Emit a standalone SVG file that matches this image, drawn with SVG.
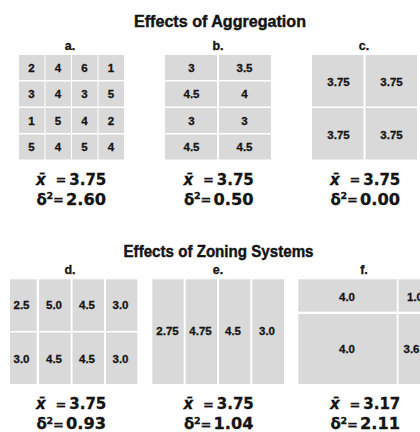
<svg xmlns="http://www.w3.org/2000/svg" width="420" height="432" viewBox="0 0 420 432">
<style>
.bg{fill:#ffffff}
.c{fill:#d9d9d9}
.t{font-family:"Liberation Sans",Arial,sans-serif;font-weight:bold;fill:#141414;stroke:#141414;stroke-width:0.3}
.title{font-size:17px;stroke-width:0.45}
.lbl{font-size:12.5px;text-anchor:middle}
.n{font-size:11.5px;text-anchor:middle}
.s{font-family:"DejaVu Sans","Liberation Sans",sans-serif;font-weight:bold;font-size:15px;fill:#141414;stroke:#141414;stroke-width:0.3}
.sup{font-size:9.5px}
.eq{font-size:13px}
</style>
<rect class="bg" x="0" y="0" width="420" height="432"/>
<text class="t title" x="134" y="27" textLength="172" lengthAdjust="spacingAndGlyphs">Effects of Aggregation</text>
<text class="t title" x="123.5" y="257" textLength="190" lengthAdjust="spacingAndGlyphs">Effects of Zoning Systems</text>

<g id="panel-a">
<text class="t lbl" x="70" y="50">a.</text>
<rect class="c" x="19" y="55" width="25.5" height="25"/><rect class="c" x="45.5" y="55" width="25.5" height="25"/><rect class="c" x="72" y="55" width="25.5" height="25"/><rect class="c" x="98.5" y="55" width="25.5" height="25"/>
<rect class="c" x="19" y="81.5" width="25.5" height="25"/><rect class="c" x="45.5" y="81.5" width="25.5" height="25"/><rect class="c" x="72" y="81.5" width="25.5" height="25"/><rect class="c" x="98.5" y="81.5" width="25.5" height="25"/>
<rect class="c" x="19" y="108" width="25.5" height="25"/><rect class="c" x="45.5" y="108" width="25.5" height="25"/><rect class="c" x="72" y="108" width="25.5" height="25"/><rect class="c" x="98.5" y="108" width="25.5" height="25"/>
<rect class="c" x="19" y="134.5" width="25.5" height="25"/><rect class="c" x="45.5" y="134.5" width="25.5" height="25"/><rect class="c" x="72" y="134.5" width="25.5" height="25"/><rect class="c" x="98.5" y="134.5" width="25.5" height="25"/>
<text class="t n" x="31.5" y="71.5">2</text><text class="t n" x="58" y="71.5">4</text><text class="t n" x="84.5" y="71.5">6</text><text class="t n" x="111" y="71.5">1</text>
<text class="t n" x="31.5" y="98">3</text><text class="t n" x="58" y="98">4</text><text class="t n" x="84.5" y="98">3</text><text class="t n" x="111" y="98">5</text>
<text class="t n" x="31.5" y="124.5">1</text><text class="t n" x="58" y="124.5">5</text><text class="t n" x="84.5" y="124.5">4</text><text class="t n" x="111" y="124.5">2</text>
<text class="t n" x="31.5" y="151">5</text><text class="t n" x="58" y="151">4</text><text class="t n" x="84.5" y="151">5</text><text class="t n" x="111" y="151">4</text>
<text class="s" x="36" y="184.7" font-style="italic">x̄</text><text class="s eq" x="55.5" y="184">=</text><text class="s" x="69.3" y="184.7" textLength="37" lengthAdjust="spacingAndGlyphs">3.75</text>
<text class="s" x="36.5" y="204.7">δ</text><text class="s sup" x="46.5" y="199">2</text><text class="s eq" x="53" y="204">=</text><text class="s" x="66" y="204.7" textLength="40" lengthAdjust="spacingAndGlyphs">2.60</text>
</g>

<g id="panel-b">
<text class="t lbl" x="218" y="50">b.</text>
<rect class="c" x="165" y="55" width="52" height="25"/><rect class="c" x="219" y="55" width="52" height="25"/>
<rect class="c" x="165" y="81.5" width="52" height="25"/><rect class="c" x="219" y="81.5" width="52" height="25"/>
<rect class="c" x="165" y="108" width="52" height="25"/><rect class="c" x="219" y="108" width="52" height="25"/>
<rect class="c" x="165" y="134.5" width="52" height="25"/><rect class="c" x="219" y="134.5" width="52" height="25"/>
<text class="t n" x="191.5" y="71.5">3</text><text class="t n" x="244.5" y="71.5">3.5</text>
<text class="t n" x="191.5" y="98">4.5</text><text class="t n" x="244.5" y="98">4</text>
<text class="t n" x="191.5" y="124.5">3</text><text class="t n" x="244.5" y="124.5">3</text>
<text class="t n" x="191.5" y="151">4.5</text><text class="t n" x="244.5" y="151">4.5</text>
<text class="s" x="183.5" y="184.7" font-style="italic">x̄</text><text class="s eq" x="203" y="184">=</text><text class="s" x="216.8" y="184.7" textLength="37" lengthAdjust="spacingAndGlyphs">3.75</text>
<text class="s" x="184" y="204.7">δ</text><text class="s sup" x="194" y="199">2</text><text class="s eq" x="200.5" y="204">=</text><text class="s" x="213.5" y="204.7" textLength="40" lengthAdjust="spacingAndGlyphs">0.50</text>
</g>

<g id="panel-c">
<text class="t lbl" x="364" y="50">c.</text>
<rect class="c" x="312" y="55" width="51.5" height="51.5"/><rect class="c" x="365.5" y="55" width="51.5" height="51.5"/>
<rect class="c" x="312" y="108" width="51.5" height="51.5"/><rect class="c" x="365.5" y="108" width="51.5" height="51.5"/>
<text class="t n" x="338.5" y="85.5">3.75</text><text class="t n" x="391.5" y="85.5">3.75</text>
<text class="t n" x="338.5" y="138.5">3.75</text><text class="t n" x="391.5" y="138.5">3.75</text>
<text class="s" x="330" y="184.7" font-style="italic">x̄</text><text class="s eq" x="349.5" y="184">=</text><text class="s" x="363.3" y="184.7" textLength="37" lengthAdjust="spacingAndGlyphs">3.75</text>
<text class="s" x="330.5" y="204.7">δ</text><text class="s sup" x="340.5" y="199">2</text><text class="s eq" x="347" y="204">=</text><text class="s" x="360" y="204.7" textLength="40" lengthAdjust="spacingAndGlyphs">0.00</text>
</g>

<g id="panel-d">
<text class="t lbl" x="70" y="274">d.</text>
<rect class="c" x="10" y="279.3" width="26.7" height="51.7"/><rect class="c" x="39" y="279.3" width="31.7" height="51.7"/><rect class="c" x="72.5" y="279.3" width="31.5" height="51.7"/><rect class="c" x="106" y="279.3" width="31.3" height="51.7"/>
<rect class="c" x="10" y="332.5" width="26.7" height="51.5"/><rect class="c" x="39" y="332.5" width="31.7" height="51.5"/><rect class="c" x="72.5" y="332.5" width="31.5" height="51.5"/><rect class="c" x="106" y="332.5" width="31.3" height="51.5"/>
<text class="t n" x="21.5" y="309.3">2.5</text><text class="t n" x="54" y="309.3">5.0</text><text class="t n" x="87" y="309.3">4.5</text><text class="t n" x="120.5" y="309.3">3.0</text>
<text class="t n" x="21.5" y="362.5">3.0</text><text class="t n" x="54" y="362.5">4.5</text><text class="t n" x="87" y="362.5">4.5</text><text class="t n" x="120.5" y="362.5">3.0</text>
<text class="s" x="36" y="409.3" font-style="italic">x̄</text><text class="s eq" x="55.5" y="408.6">=</text><text class="s" x="69.3" y="409.3" textLength="37" lengthAdjust="spacingAndGlyphs">3.75</text>
<text class="s" x="36.5" y="429.3">δ</text><text class="s sup" x="46.5" y="423.6">2</text><text class="s eq" x="53" y="428.6">=</text><text class="s" x="66" y="429.3" textLength="40" lengthAdjust="spacingAndGlyphs">0.93</text>
</g>

<g id="panel-e">
<text class="t lbl" x="218" y="274">e.</text>
<rect class="c" x="152.3" y="279.3" width="31.4" height="104.7"/><rect class="c" x="185.7" y="279.3" width="31.3" height="104.7"/><rect class="c" x="219" y="279.3" width="31.3" height="104.7"/><rect class="c" x="252.3" y="279.3" width="31.7" height="104.7"/>
<text class="t n" x="167.5" y="335">2.75</text><text class="t n" x="200.5" y="335">4.75</text><text class="t n" x="233" y="335">4.5</text><text class="t n" x="267" y="335">3.0</text>
<text class="s" x="183.5" y="409.3" font-style="italic">x̄</text><text class="s eq" x="203" y="408.6">=</text><text class="s" x="216.8" y="409.3" textLength="37" lengthAdjust="spacingAndGlyphs">3.75</text>
<text class="s" x="184" y="429.3">δ</text><text class="s sup" x="194" y="423.6">2</text><text class="s eq" x="200.5" y="428.6">=</text><text class="s" x="213.5" y="429.3" textLength="40" lengthAdjust="spacingAndGlyphs">1.04</text>
</g>

<g id="panel-f">
<text class="t lbl" x="364" y="274">f.</text>
<rect class="c" x="298.3" y="279.3" width="98.4" height="32.4"/><rect class="c" x="398.5" y="279.3" width="30" height="32.4"/>
<rect class="c" x="298.3" y="314" width="98.4" height="70"/><rect class="c" x="398.5" y="314" width="30" height="70"/>
<text class="t n" x="347" y="300.8">4.0</text><text class="t" font-size="11.5" x="407" y="300.8">1.0</text>
<text class="t n" x="347" y="353.3">4.0</text><text class="t" font-size="11.5" x="403.5" y="353.3">3.6</text>
<text class="s" x="330" y="409.3" font-style="italic">x̄</text><text class="s eq" x="349.5" y="408.6">=</text><text class="s" x="363.3" y="409.3" textLength="37" lengthAdjust="spacingAndGlyphs">3.17</text>
<text class="s" x="330.5" y="429.3">δ</text><text class="s sup" x="340.5" y="423.6">2</text><text class="s eq" x="347" y="428.6">=</text><text class="s" x="360" y="429.3" textLength="40" lengthAdjust="spacingAndGlyphs">2.11</text>
</g>
</svg>
